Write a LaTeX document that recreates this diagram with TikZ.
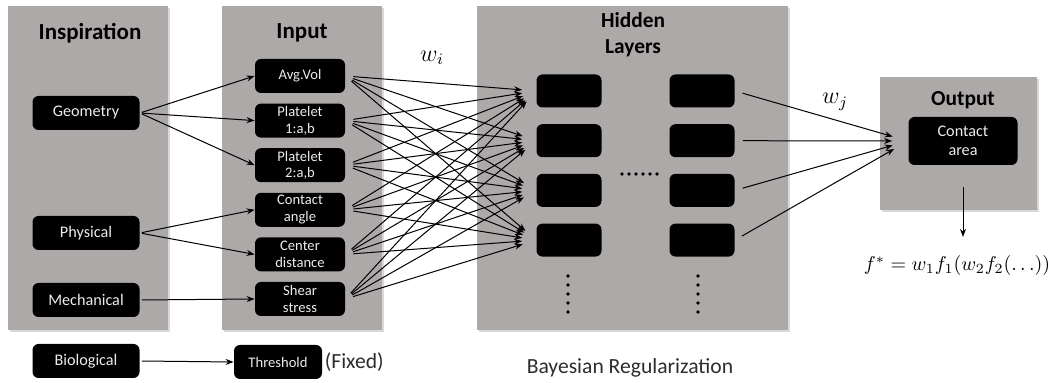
\documentclass[tikz,border=0pt]{standalone}
\usepackage{fontspec}
\setmainfont{Carlito}
\usetikzlibrary{positioning,arrows.meta,shadows}
\definecolor{panelgray}{RGB}{173,169,169}
\definecolor{boxtext}{RGB}{236,236,236}
\definecolor{notegray}{RGB}{45,45,45}
\tikzset{
  panel/.style={fill=panelgray, drop shadow={shadow xshift=1pt, shadow yshift=-1pt, opacity=0.3}},
  heading/.style={font=\bfseries\fontsize{11.5}{13}\selectfont, align=center},
  srcbox/.style={fill=black, text=boxtext, rounded corners=3pt, minimum width=53.5pt,
    minimum height=17pt, inner sep=0.5pt, font=\fontsize{8.1}{9.5}\selectfont},
  inbox/.style={srcbox, minimum width=45pt, align=center, font=\fontsize{7.3}{8.3}\selectfont},
  hidbox/.style={fill=black, rounded corners=3pt, minimum width=32.5pt, minimum height=16.5pt},
  link/.style={-{Stealth[length=4pt,width=3pt]}, line width=0.5pt},
}
\begin{document}
\begin{tikzpicture}[x=0.5pt, y=-0.5pt]
      \useasboundingbox (0,0) rectangle (1060,383);

      % panels
      \fill[panel] (8,6) rectangle (168,330);
      \fill[panel] (222,6) rectangle (382,330);
      \fill[panel] (477,6) rectangle (788,330);
      \fill[panel] (880,77) rectangle (1037,210);

      \node[heading, name=t1] at (90,33) {Inspiration};
      \node[heading, name=t2] at (302,33) {Input};
      \node[heading, name=t3, font=\bfseries\fontsize{10.7}{13}\selectfont] at (633,35) {Hidden\\Layers};
      \node[heading, name=t4, font=\bfseries\fontsize{10.7}{13}\selectfont] at (963,100) {Output};

      % inspiration
      \node[srcbox, name=geo] at (86,113) {Geometry};
      \node[srcbox, name=phy] at (86,233) {Physical};
      \node[srcbox, name=mec] at (86,300) {Mechanical};
      \node[srcbox, name=bio] at (86,361) {Biological};

      % input
      \begin{scope}[node distance=22.3pt]
      \node[inbox, name=avg] at (300,76) {Avg.Vol};
      \node[inbox, name=pl1, below of=avg] {Platelet\\1:a,b};
      \node[inbox, name=pl2, below of=pl1] {Platelet\\2:a,b};
      \node[inbox, name=ang, below of=pl2] {Contact\\angle};
      \node[inbox, name=dis, below of=ang] {Center\\distance};
      \node[inbox, name=she, below of=dis] {Shear\\stress};
      \end{scope}
      \node[inbox, name=thr, minimum width=44pt] at (278,362) {Threshold};
      \node[name=fix, right=1pt of thr, inner sep=0pt, font=\fontsize{10.8}{12}\selectfont, text=notegray] {(Fixed)};

      % hidden layers
      \begin{scope}[node distance=24.85pt]
      \node[hidbox, name=h1] at (569,91) {};
      \node[hidbox, name=h2, below of=h1] {};
      \node[hidbox, name=h3, below of=h2] {};
      \node[hidbox, name=h4, below of=h3] {};
      \end{scope}
      \begin{scope}[node distance=66.5pt]
      \node[hidbox, name=k1, right of=h1] {};
      \node[hidbox, name=k2, right of=h2] {};
      \node[hidbox, name=k3, right of=h3] {};
      \node[hidbox, name=k4, right of=h4] {};
      \end{scope}
      \foreach \k in {0,...,5} \fill (622+\k*7,174) circle[radius=0.9pt];
      \foreach \k in {0,...,4} {
        \fill (568,276+\k*9) circle[radius=0.9pt];
        \fill (698,276+\k*9) circle[radius=0.9pt];
      }

      % output
      \node[srcbox, name=out, minimum width=54.5pt, minimum height=24pt, align=center] at (963,141) {Contact\\area};
      \node[name=fs, font=\fontsize{10.3}{12}\selectfont] at (957,266) {$f^{*} = w_1 f_1(w_2 f_2(\ldots))$};

      \node[name=wi, font=\fontsize{12}{13}\selectfont] at (432,58) {$w_i$};
      \node[name=wj, font=\fontsize{12}{13}\selectfont] at (835,102) {$w_j$};
      \node[name=br, font=\fontsize{10.8}{12}\selectfont, text=notegray] at (630,368) {Bayesian Regularization};

      \path[link, shorten <=1pt]
         (geo.east) edge (avg.west)
         (geo.east) edge (pl1.west)
         (geo.east) edge (pl2.west)
         (phy.east) edge (ang.west)
         (phy.east) edge (dis.west)
         (mec.east) edge (she.west)
         (bio.east) edge (thr.west);

      \path[link, shorten <=4pt, shorten >=7pt]
         (avg.east) edge (h1.west) (avg.east) edge (h2.west) (avg.east) edge (h3.west) (avg.east) edge (h4.west)
         (pl1.east) edge (h1.west) (pl1.east) edge (h2.west) (pl1.east) edge (h3.west) (pl1.east) edge (h4.west)
         (pl2.east) edge (h1.west) (pl2.east) edge (h2.west) (pl2.east) edge (h3.west) (pl2.east) edge (h4.west)
         (ang.east) edge (h1.west) (ang.east) edge (h2.west) (ang.east) edge (h3.west) (ang.east) edge (h4.west)
         (dis.east) edge (h1.west) (dis.east) edge (h2.west) (dis.east) edge (h3.west) (dis.east) edge (h4.west)
         (she.east) edge (h1.west) (she.east) edge (h2.west) (she.east) edge (h3.west) (she.east) edge (h4.west);

      \path[link, shorten <=4pt, shorten >=8pt]
         (k1.east) edge (out.west)
         (k2.east) edge (out.west)
         (k3.east) edge (out.west)
         (k4.east) edge (out.west);

      \path[link, shorten <=11pt, shorten >=6pt]
         (out.south) edge (fs.north -| out.south);
   \end{tikzpicture}
\end{document}
